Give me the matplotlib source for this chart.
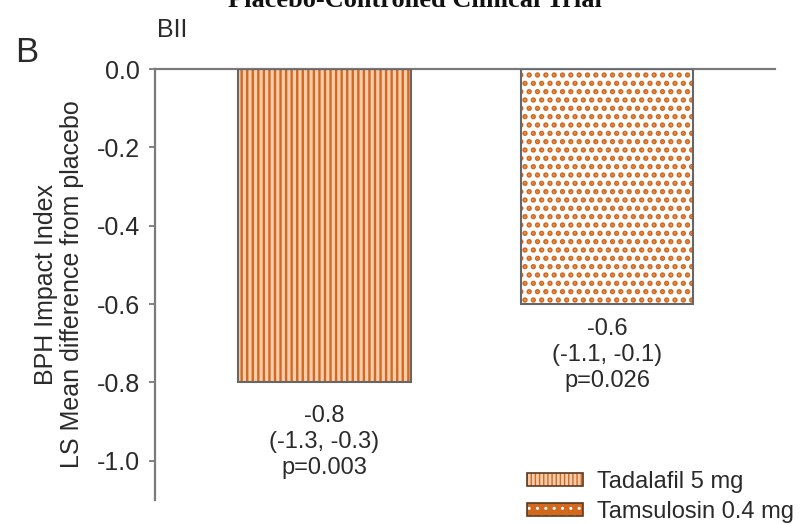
import matplotlib
matplotlib.use("Agg")
import matplotlib.pyplot as plt
from matplotlib.patches import Patch
from matplotlib.legend_handler import HandlerTuple
import numpy as np

plt.rcParams['font.family'] = ['Liberation Sans', 'DejaVu Sans']
plt.rcParams['axes.unicode_minus'] = False

# LS mean difference from placebo, BPH Impact Index
treatments = ['Tadalafil 5 mg', 'Tamsulosin 0.4 mg']
mean_diff = [-0.8, -0.6]
ci_low = [-1.3, -1.1]
ci_high = [-0.3, -0.1]
p_values = ['0.003', '0.026']

orange = '#D2691E'
text_col = '#2a2a2a'
grey = '#7a7a7a'
outline = '#666666'

fig = plt.figure(figsize=(8.04, 5.24), dpi=100)
ax = fig.add_axes([0.1928, 0.0458, 0.7712, 0.8225])

x = np.arange(len(treatments))
width = 0.612

# hatched fill first, outline on top so the hatch keeps its own colour
styles = [dict(facecolor='#F4CDAE', hatch='|||', hlw=1.7),
          dict(facecolor='white', hatch='..', hlw=2.6)]
for i in range(len(treatments)):
    with plt.rc_context({'hatch.linewidth': styles[i]['hlw']}):
        b = ax.bar(x[i], mean_diff[i], width, facecolor=styles[i]['facecolor'],
                   edgecolor=orange, hatch=styles[i]['hatch'], linewidth=0, zorder=2)
    for p in b:
        if hasattr(p, 'set_hatch_linewidth'):
            p.set_hatch_linewidth(styles[i]['hlw'])
    ax.bar(x[i], mean_diff[i], width, fill=False, edgecolor=outline,
           linewidth=1.5, zorder=3)

# value, CI and p-value under each bar
gaps = [-16, -10]
for i in range(len(treatments)):
    label = f'{mean_diff[i]:.1f}\n({ci_low[i]:.1f}, {ci_high[i]:.1f})\np={p_values[i]}'
    ax.annotate(label, (x[i], mean_diff[i]), xytext=(0, gaps[i]), textcoords='offset points',
                ha='center', va='top', fontsize=17, color=text_col, linespacing=1.25)

ax.set_xlim(-0.6, 1.595)
ax.set_ylim(-1.1, 0)
ticks = np.arange(0, -1.01, -0.2)
ax.set_yticks(ticks)
ax.set_yticklabels([f'{v:.1f}' for v in ticks])
ax.set_xticks([])
ax.tick_params(axis='y', length=4, width=1.3, color=grey, pad=7,
               labelsize=18, labelcolor=text_col)

for side in ['right', 'bottom']:
    ax.spines[side].set_visible(False)
for side in ['left', 'top']:
    ax.spines[side].set_color(grey)
    ax.spines[side].set_linewidth(1.6)

ax.set_ylabel('BPH Impact Index\nLS Mean difference from placebo', fontsize=18,
              color=text_col, labelpad=9, linespacing=1.1)

# legend swatches: stripes on peach, white dots on orange, dark border
with plt.rc_context({'hatch.linewidth': 1.4}):
    h1 = Patch(facecolor='#F4CDAE', edgecolor=orange, hatch='||||', linewidth=0)
with plt.rc_context({'hatch.linewidth': 2.2}):
    h2 = Patch(facecolor=orange, edgecolor='white', hatch='..', linewidth=0)
h1.set_hatch_linewidth(1.4) if hasattr(h1, 'set_hatch_linewidth') else None
h2.set_hatch_linewidth(2.2) if hasattr(h2, 'set_hatch_linewidth') else None
border1 = Patch(fill=False, edgecolor='#5a3a20', linewidth=1.2)
border2 = Patch(fill=False, edgecolor='#5a3a20', linewidth=1.2)

ax.legend(handles=[(h1, border1), (h2, border2)], labels=treatments,
          handler_map={tuple: HandlerTuple(ndivide=1, pad=0)},
          loc='center left', bbox_to_anchor=(527 / 804, 1 - 497 / 524),
          bbox_transform=fig.transFigure, frameon=False, fontsize=17,
          handlelength=2.37, handleheight=0.45, handletextpad=0.6,
          labelspacing=0.35, borderpad=0, borderaxespad=0, labelcolor=text_col)

fig.text(15 / 804, 1 - 62 / 524, 'B', fontsize=25, color=text_col, va='baseline')
fig.text(157 / 804, 1 - 37 / 524, 'BII', fontsize=18, color=text_col, va='baseline')
fig.text(415 / 804, 1 - 7 / 524, 'Placebo-Controlled Clinical Trial',
         family=['Liberation Serif', 'DejaVu Serif'], fontweight='bold',
         fontsize=19, ha='center', va='baseline', color='#111111')

fig.savefig('out.png', dpi=100)
